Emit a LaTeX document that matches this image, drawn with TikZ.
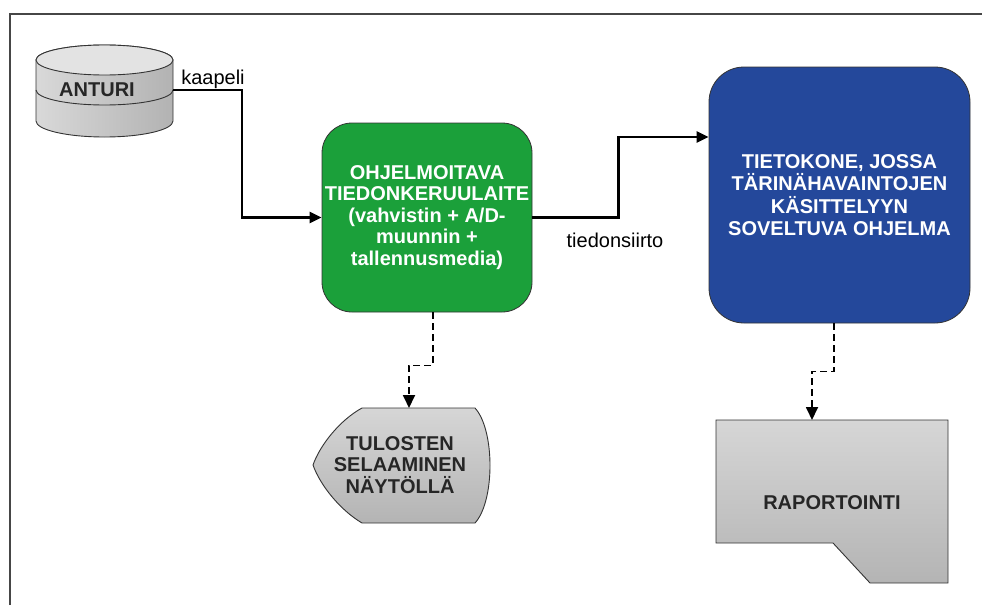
\documentclass[tikz,border=0pt]{standalone}
\usepackage{fontspec}
\setmainfont{Liberation Sans}
\usetikzlibrary{arrows.meta}
\definecolor{boxgreen}{RGB}{27,160,58}
\definecolor{boxblue}{RGB}{36,72,155}
\definecolor{framegray}{RGB}{70,70,70}
\definecolor{lightg}{RGB}{214,214,214}
\definecolor{darkg}{RGB}{180,180,180}
\begin{document}
\begin{tikzpicture}[x=1pt,y=-1pt,
  conn/.style={line width=2.6pt, line join=miter, -{Triangle[length=12pt,width=11pt]}},
  dconn/.style={line width=1.8pt, line join=miter, dash pattern=on 7pt off 4pt, -{Triangle[length=13pt,width=12pt]}},
  bigtext/.style={font=\bfseries\fontsize{20}{21.5}\selectfont, align=center, inner sep=0pt},
  lbl/.style={font=\fontsize{20}{21.5}\selectfont, inner sep=0pt},
  roundbox/.style={draw=black!80, line width=0.8pt, text=white, bigtext, minimum width=#1},
  grayshape/.style={draw=black!80, line width=0.9pt, top color=lightg, bottom color=darkg}
]
\useasboundingbox (0,0) rectangle (982,605);
% frame
\draw[framegray, line width=2pt] (10,605) -- (10,14) -- (982,14);

% cylinder ANTURI
\path[draw=black!80, line width=0.9pt, left color=gray!30, right color=gray!60]
  (36,60) -- (36,121) arc[start angle=180, end angle=0, x radius=68.5, y radius=16]
  -- (173,60) arc[start angle=0, end angle=-180, x radius=68.5, y radius=15] -- cycle;
\draw[black!80, line width=0.9pt] (36,90) arc[start angle=180, end angle=0, x radius=68.5, y radius=15];
\path[draw=black!80, line width=0.9pt, fill=gray!22] (104.5,60) ellipse[x radius=68.5, y radius=15];
\node[bigtext, text=black!85] (anturi) at (97,90) {ANTURI};
\coordinate (cabstart) at (173,90);
\node[lbl] (kaapeli) at (213,79) {kaapeli};

% green box
\node[roundbox=210pt, fill=boxgreen, minimum height=189pt, rounded corners=30pt] (green) at (427,217.5)
  {OHJELMOITAVA\\TIEDONKERUULAITE\\(vahvistin + A/D-\\muunnin +\\tallennusmedia)};

% blue box
\node[roundbox=261pt, fill=boxblue, minimum height=256pt, rounded corners=35pt,
  font=\bfseries\fontsize{20}{22.5}\selectfont] (blue) at (839.5,195)
  {TIETOKONE, JOSSA\\TÄRINÄHAVAINTOJEN\\KÄSITTELYYN\\SOVELTUVA OHJELMA};

\node[lbl] (siirto) at (615,240) {tiedonsiirto};

% display shape
\path[grayshape] (362,408) -- (475,408) .. controls (495,430) and (495,501) .. (475,523)
  -- (362,523) .. controls (340,510) and (320,485) .. (313,465)
  .. controls (320,445) and (340,420) .. (362,408) -- cycle;
\node[bigtext, text=black!85] (tulosten) at (400,465) {TULOSTEN\\SELAAMINEN\\NÄYTÖLLÄ};
\coordinate (tultop) at (409,408);

% report shape
\path[grayshape] (716,420) -- (948,420) -- (948,583) -- (870,583) -- (833,543) -- (716,543) -- cycle;
\node[bigtext, text=black!85] (rap) at (832,503) {RAPORTOINTI};
\coordinate (raptop) at (812,420);

% connectors
\draw[conn] (cabstart) -- ++(69,0) |- (green.west);
\draw[conn] (green.east) -- ++(86,0) |- ([yshift=58pt]blue.west);
\draw[dconn] ([xshift=6pt]green.south) -- ++(0,53) -| (tultop);
\draw[dconn] ([xshift=-5.5pt]blue.south) -- ++(0,48) -| (raptop);
\end{tikzpicture}
\end{document}
